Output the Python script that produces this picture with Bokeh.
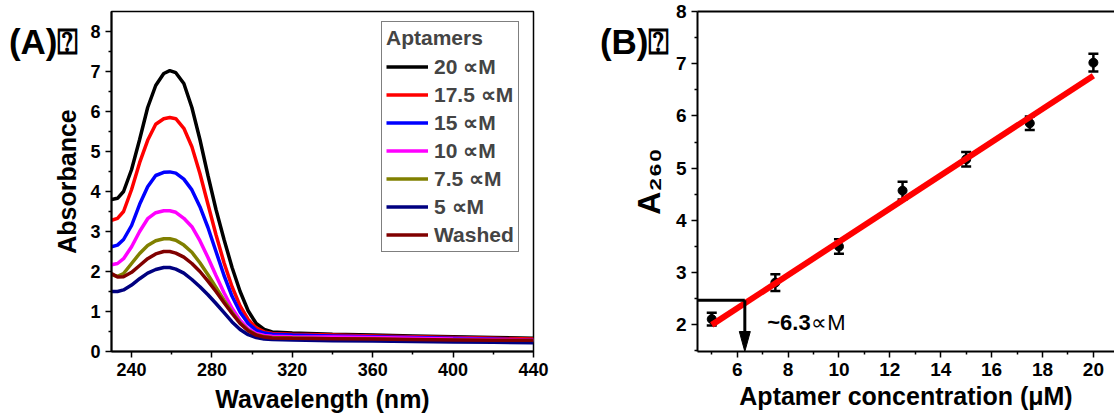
from bokeh.plotting import figure
from bokeh.layouts import row
from bokeh.models import (Legend, LegendItem, Range1d, FixedTicker, Whisker, TeeHead,
                          ColumnDataSource, Label, LinearAxis)
from bokeh.embed import file_html
from bokeh.resources import INLINE

# ---------------- data: panel A (UV spectra) ----------------
wavelength = [230, 233, 236, 240, 244, 248, 252, 256, 259, 262, 266, 270, 274, 278, 282,
              286, 290, 294, 298, 302, 306, 310, 320, 340, 360, 380, 400, 420, 440]
abs_20uM = [3.80, 3.83, 4.00, 4.55, 5.30, 6.10, 6.65, 6.95, 7.02, 6.97, 6.70, 6.10, 5.30, 4.40, 3.55,
            2.80, 2.10, 1.50, 1.02, 0.70, 0.55, 0.49, 0.46, 0.43, 0.41, 0.39, 0.37, 0.35, 0.33]
abs_17_5uM = [3.28, 3.33, 3.50, 4.05, 4.72, 5.28, 5.68, 5.82, 5.85, 5.82, 5.58, 5.12, 4.45, 3.68, 2.92,
              2.22, 1.62, 1.14, 0.80, 0.59, 0.49, 0.45, 0.43, 0.41, 0.39, 0.37, 0.35, 0.33, 0.31]
abs_15uM = [2.62, 2.66, 2.80, 3.15, 3.68, 4.12, 4.40, 4.48, 4.49, 4.46, 4.31, 4.04, 3.62, 3.10, 2.50,
            1.90, 1.38, 0.98, 0.70, 0.53, 0.46, 0.43, 0.41, 0.39, 0.37, 0.35, 0.33, 0.31, 0.29]
abs_10uM = [2.17, 2.20, 2.32, 2.62, 3.00, 3.32, 3.47, 3.52, 3.52, 3.48, 3.33, 3.12, 2.77, 2.35, 1.90,
            1.47, 1.08, 0.78, 0.57, 0.45, 0.40, 0.38, 0.37, 0.36, 0.35, 0.33, 0.31, 0.30, 0.29]
abs_7_5uM = [1.92, 1.88, 1.95, 2.20, 2.45, 2.65, 2.77, 2.82, 2.82, 2.78, 2.66, 2.48, 2.22, 1.92, 1.60,
             1.28, 0.98, 0.72, 0.53, 0.42, 0.37, 0.35, 0.34, 0.32, 0.31, 0.29, 0.28, 0.27, 0.26]
abs_5uM = [1.50, 1.50, 1.54, 1.66, 1.82, 1.96, 2.05, 2.10, 2.10, 2.06, 1.96, 1.80, 1.62, 1.42, 1.20,
           0.97, 0.74, 0.55, 0.42, 0.35, 0.31, 0.30, 0.29, 0.27, 0.26, 0.25, 0.24, 0.23, 0.22]
abs_washed = [1.95, 1.86, 1.87, 1.98, 2.15, 2.32, 2.44, 2.50, 2.50, 2.46, 2.36, 2.20, 2.00, 1.76, 1.50,
              1.22, 0.95, 0.70, 0.52, 0.41, 0.36, 0.34, 0.33, 0.32, 0.31, 0.30, 0.29, 0.28, 0.28]

series_labels = ["20 \u221dM", "17.5 \u221dM", "15 \u221dM", "10 \u221dM", "7.5 \u221dM", "5 \u221dM", "Washed"]
series_values = [abs_20uM, abs_17_5uM, abs_15uM, abs_10uM, abs_7_5uM, abs_5uM, abs_washed]
series_colors = ["#000000", "#ff0000", "#0000ff", "#ff00ff", "#808000", "#000080", "#800000"]

wl_ticks = [240, 280, 320, 360, 400, 440]
wl_minor = [260, 300, 340, 380, 420]
abs_ticks = [0, 1, 2, 3, 4, 5, 6, 7, 8]
abs_minor = [0.5, 1.5, 2.5, 3.5, 4.5, 5.5, 6.5, 7.5]

# ---------------- data: panel B (A260 vs concentration) ----------------
conc = [5, 7.5, 10, 12.5, 15, 17.5, 20]
a260 = [2.11, 2.81, 3.50, 4.57, 5.17, 5.86, 7.02]
a260_err = [0.12, 0.16, 0.14, 0.17, 0.14, 0.13, 0.17]
fit_x = [5, 20]
fit_y = [2.00, 6.77]
threshold_conc = 6.3
threshold_a260 = 2.47

conc_ticks = [6, 8, 10, 12, 14, 16, 18, 20]
conc_minor = [5, 7, 9, 11, 13, 15, 17, 19]
a_ticks = [2, 3, 4, 5, 6, 7, 8]
a_minor = [1.5, 2.5, 3.5, 4.5, 5.5, 6.5, 7.5]

FONT = "Liberation Sans"


def style_axis(ax, tick_size):
    ax.axis_line_width = 2
    ax.axis_line_color = "black"
    ax.major_tick_line_width = 1.5
    ax.minor_tick_line_width = 1.5
    ax.major_tick_line_color = "black"
    ax.minor_tick_line_color = "black"
    ax.major_tick_out = 6
    ax.major_tick_in = 0
    ax.minor_tick_out = 3
    ax.minor_tick_in = 0
    ax.major_label_text_font = FONT
    ax.major_label_text_font_style = "bold"
    ax.major_label_text_font_size = tick_size
    ax.major_label_text_color = "black"
    ax.major_label_standoff = 5
    ax.axis_label_text_font = FONT
    ax.axis_label_text_font_style = "bold"
    ax.axis_label_text_font_size = "25px"
    ax.axis_label_text_color = "black"
    ax.axis_label_standoff = 6


def panel_tag(p, text, lo, hi, pos, shift):
    # an outer, line-less axis whose single tick label is the panel tag
    p.extra_y_ranges = {"tag": Range1d(lo, hi)}
    ax = LinearAxis(y_range_name="tag", ticker=FixedTicker(ticks=[pos], minor_ticks=[]),
                    major_label_overrides={pos: text},
                    axis_line_color=None, major_tick_line_color=None, minor_tick_line_color=None,
                    major_tick_out=0, major_tick_in=0, minor_tick_out=0, minor_tick_in=0,
                    major_label_standoff=-shift,
                    major_label_text_font=FONT, major_label_text_font_style="bold",
                    major_label_text_font_size="35px", major_label_text_color="black")
    p.add_layout(ax, "left")


# ---------------- panel A ----------------
p1 = figure(width=560, height=419, x_range=Range1d(230, 440), y_range=Range1d(0, 8.5),
            output_backend="svg", toolbar_location=None,
            min_border_left=111, min_border_right=27, min_border_top=11, min_border_bottom=68)
p1.grid.visible = False
p1.outline_line_color = "black"
p1.outline_line_width = 1.5
p1.xaxis.ticker = FixedTicker(ticks=wl_ticks, minor_ticks=wl_minor)
p1.yaxis.ticker = FixedTicker(ticks=abs_ticks, minor_ticks=abs_minor)
style_axis(p1.xaxis[0], "18px")
style_axis(p1.yaxis[0], "18px")
p1.xaxis.axis_label = "Wavaelength (nm)"
p1.yaxis.axis_label = "Absorbance"

items = []
for lbl, vals, col in zip(series_labels, series_values, series_colors):
    r = p1.line(wavelength, vals, line_color=col, line_width=3.5)
    items.append(LegendItem(label=lbl, renderers=[r]))

legend = Legend(items=items, location=(270, 99), title="Aptamers",
                title_text_font=FONT, title_text_font_style="bold", title_text_font_size="21px",
                title_standoff=4,
                label_text_font=FONT, label_text_font_style="bold", label_text_font_size="21px",
                glyph_width=42, glyph_height=25, label_height=25, spacing=3, padding=4,
                label_standoff=6, border_line_color="black", border_line_width=1.5, margin=0)
p1.add_layout(legend)

panel_tag(p1, "(A)\u2370", 0, 850, 775, 28)

# ---------------- panel B ----------------
p2 = figure(width=554, height=419, x_range=Range1d(4.44, 20.83), y_range=Range1d(1.49, 8.0),
            output_backend="svg", toolbar_location=None,
            min_border_left=137, min_border_right=0, min_border_top=11, min_border_bottom=68)
p2.grid.visible = False
p2.outline_line_color = None
p2.xaxis.ticker = FixedTicker(ticks=conc_ticks, minor_ticks=conc_minor)
p2.yaxis.ticker = FixedTicker(ticks=a_ticks, minor_ticks=a_minor)
style_axis(p2.xaxis[0], "19px")
style_axis(p2.yaxis[0], "19px")
p2.xaxis.axis_label = "Aptamer concentration (\u03bcM)"
p2.yaxis.axis_label = "A\u2082\u2086\u2080"
p2.yaxis.axis_label_text_font_size = "32px"
p2.xaxis.axis_label_standoff = 3

top_axis = LinearAxis(ticker=FixedTicker(ticks=[]), axis_line_width=2, axis_line_color="black",
                      major_tick_line_color=None, minor_tick_line_color=None,
                      major_label_text_font_size="0px")
p2.add_layout(top_axis, "above")

src = ColumnDataSource(dict(x=conc, y=a260,
                            upper=[a + e for a, e in zip(a260, a260_err)],
                            lower=[a - e for a, e in zip(a260, a260_err)]))
whisk = Whisker(base="x", upper="upper", lower="lower", source=src,
                line_color="black", line_width=2.5,
                upper_head=TeeHead(size=10, line_width=2.5, line_color="black"),
                lower_head=TeeHead(size=10, line_width=2.5, line_color="black"))
p2.add_layout(whisk)
p2.scatter("x", "y", source=src, size=9, color="black")
p2.line(fit_x, fit_y, line_color="#ff0000", line_width=6)

# threshold guide and arrow
y_floor = p2.y_range.start
head_len = 20 / 52.2
head_half = 5.5 / 25.45
p2.line([p2.x_range.start, threshold_conc], [threshold_a260, threshold_a260],
        line_color="black", line_width=3)
p2.line([threshold_conc, threshold_conc], [threshold_a260, y_floor + head_len],
        line_color="black", line_width=3)
p2.patch([threshold_conc - head_half, threshold_conc + head_half, threshold_conc],
         [y_floor + head_len, y_floor + head_len, y_floor], color="black")

p2.add_layout(Label(x=7.18, y=2.04, text="~6.3", text_font=FONT, text_font_style="bold",
                    text_font_size="22px", text_baseline="middle", text_color="black"))
p2.add_layout(Label(x=7.18, y=2.04, x_offset=44, text="\u221dM", text_font=FONT,
                    text_font_size="22px", text_baseline="middle", text_color="black"))

panel_tag(p2, "(B)\u2370", 149, 800, 743, 42)

layout = row(p1, p2)
open("out.html", "w").write(file_html(layout, INLINE))
